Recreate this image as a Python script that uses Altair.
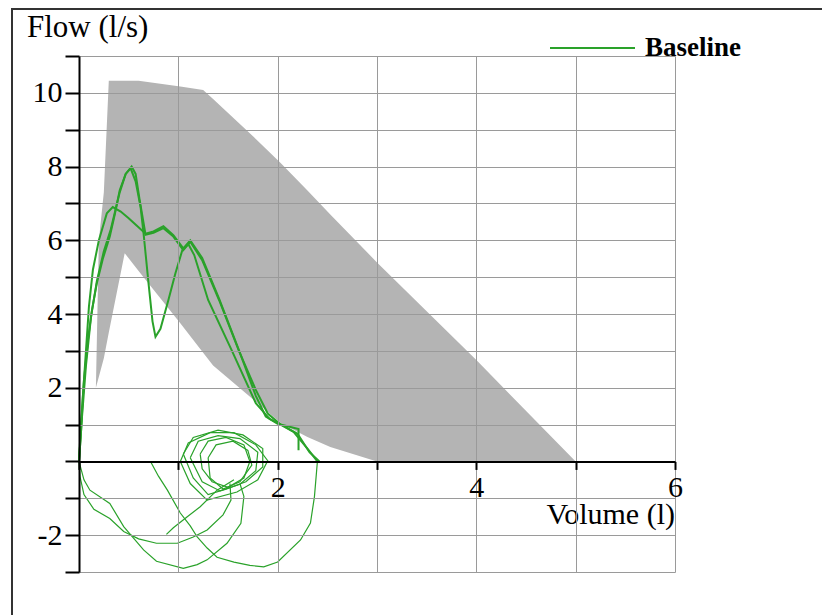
import altair as alt
import pandas as pd

# ---------------- data ----------------
# predicted normal range (grey band)
band_vol   = [0.17, 0.20, 0.25, 0.30, 0.46, 0.60, 1.02, 1.25, 1.35, 1.76, 2.03, 2.30, 2.53, 3.00, 4.00, 5.00]
band_upper = [2.00, 6.00, 7.30, 10.33, 10.33, 10.33, 10.17, 10.08, 9.83, 8.80, 8.10, 7.35, 6.70, 5.40, 2.75, 0.00]
band_lower = [2.00, 2.30, 2.80, 3.50, 5.65, 5.17, 3.75, 2.95, 2.60, 1.67, 1.04, 0.66, 0.39, 0.00, 0.00, 0.00]

# forced expiratory curves (thick)
e1_vol  = [0.00, 0.02, 0.05, 0.09, 0.13, 0.18, 0.24, 0.31, 0.36, 0.41, 0.47, 0.53, 0.57, 0.61, 0.67, 0.75, 0.85, 0.95, 1.05, 1.12, 1.24, 1.41, 1.61, 1.78, 1.90, 2.03, 2.16, 2.30, 2.40]
e1_flow = [0.00, 1.00, 2.20, 3.30, 4.10, 4.84, 5.50, 6.10, 6.70, 7.36, 7.80, 8.00, 7.80, 7.10, 6.15, 6.20, 6.33, 6.10, 5.73, 5.96, 5.46, 4.38, 3.00, 1.94, 1.30, 1.00, 0.80, 0.35, 0.00]

e2_vol  = [0.00, 0.02, 0.04, 0.07, 0.10, 0.14, 0.20, 0.28, 0.34, 0.42, 0.50, 0.58, 0.67, 0.75, 0.85, 0.95, 1.05, 1.12, 1.24, 1.41, 1.61, 1.78, 1.88, 2.00, 2.21, 2.21]
e2_flow = [0.00, 0.80, 1.80, 3.00, 4.20, 5.20, 6.00, 6.73, 6.90, 6.78, 6.60, 6.40, 6.18, 6.24, 6.38, 6.14, 5.78, 6.00, 5.52, 4.42, 3.02, 1.78, 1.22, 1.02, 0.88, 0.30]

e3_vol  = [0.00, 0.03, 0.07, 0.12, 0.18, 0.25, 0.32, 0.41, 0.47, 0.52, 0.57, 0.62, 0.65, 0.70, 0.74, 0.77, 0.82, 0.90, 0.97, 1.04, 1.10, 1.16, 1.30, 1.54, 1.78, 1.92, 2.05, 2.20, 2.32, 2.42]
e3_flow = [0.00, 1.20, 2.60, 3.90, 4.90, 5.70, 6.30, 7.30, 7.80, 7.95, 7.60, 6.90, 6.19, 4.83, 3.80, 3.38, 3.60, 4.38, 5.10, 5.73, 5.90, 5.60, 4.38, 3.00, 1.58, 1.15, 0.98, 0.75, 0.25, 0.00]

# inspiratory / tidal loops (thin)
la_vol  = [0.00, 0.01, 0.05, 0.15, 0.31, 0.45, 0.60, 0.78, 0.99, 1.15, 1.29, 1.45, 1.53, 1.52]
la_flow = [0.00, -0.41, -0.90, -1.30, -1.55, -1.90, -2.10, -2.22, -2.22, -2.05, -1.86, -1.45, -1.05, -0.60]

lb_vol  = [0.00, 0.05, 0.11, 0.31, 0.45, 0.65, 0.78, 1.05, 1.19, 1.29, 1.49, 1.63, 1.66, 1.62]
lb_flow = [0.00, -0.50, -0.78, -1.14, -1.77, -2.40, -2.71, -2.90, -2.80, -2.67, -2.22, -1.68, -0.95, -0.60]

lc_vol  = [0.72, 0.80, 0.89, 1.02, 1.12, 1.19, 1.29, 1.39, 1.56, 1.72, 1.86, 2.00, 2.23, 2.33, 2.37, 2.40]
lc_flow = [0.00, -0.40, -0.78, -1.40, -1.75, -2.05, -2.35, -2.60, -2.73, -2.82, -2.86, -2.73, -2.13, -1.67, -0.96, 0.00]

ld_vol  = [1.56, 1.39, 1.22, 1.09, 0.95, 0.88]
ld_flow = [-0.50, -0.78, -1.23, -1.50, -1.80, -1.98]

t1_vol  = [1.02, 1.10, 1.32, 1.56, 1.78, 1.90, 1.80, 1.59, 1.29, 1.12, 1.02]
t1_flow = [0.00, 0.50, 0.78, 0.78, 0.45, 0.02, -0.50, -0.83, -1.05, -0.60, 0.00]
t2_vol  = [1.12, 1.20, 1.40, 1.62, 1.80, 1.78, 1.62, 1.42, 1.24, 1.12]
t2_flow = [0.10, 0.55, 0.70, 0.62, 0.25, -0.25, -0.62, -0.80, -0.55, 0.10]
t3_vol  = [1.22, 1.30, 1.48, 1.66, 1.72, 1.66, 1.50, 1.34, 1.24, 1.22]
t3_flow = [0.20, 0.55, 0.65, 0.45, 0.00, -0.45, -0.70, -0.55, -0.20, 0.20]
t4_vol  = [1.30, 1.38, 1.55, 1.70, 1.74, 1.62, 1.45, 1.32, 1.30]
t4_flow = [0.10, 0.45, 0.55, 0.30, -0.10, -0.55, -0.75, -0.45, 0.10]
t5_vol  = [1.05, 1.15, 1.40, 1.65, 1.85, 1.85, 1.68, 1.48, 1.30, 1.15, 1.05]
t5_flow = [0.20, 0.65, 0.85, 0.72, 0.35, -0.15, -0.55, -0.75, -0.90, -0.45, 0.20]

y_ticks = list(range(-3, 12))
x_ticks = list(range(0, 7))

# ---------------- build tables ----------------
band_df = pd.DataFrame({"vol": band_vol, "flow": band_upper, "flow2": band_lower})

thick_rows, thin_rows = [], []
def add(rows, name, vols, flows):
    for i, (v, f) in enumerate(zip(vols, flows)):
        rows.append({"trace": name, "idx": i, "vol": v, "flow": f, "series": "Baseline"})

add(thick_rows, "e1", e1_vol, e1_flow)
add(thick_rows, "e2", e2_vol, e2_flow)
add(thick_rows, "e3", e3_vol, e3_flow)
for name, v, f in [("la", la_vol, la_flow), ("lb", lb_vol, lb_flow), ("lc", lc_vol, lc_flow),
                   ("ld", ld_vol, ld_flow), ("t1", t1_vol, t1_flow), ("t2", t2_vol, t2_flow),
                   ("t3", t3_vol, t3_flow), ("t4", t4_vol, t4_flow), ("t5", t5_vol, t5_flow)]:
    add(thin_rows, name, v, f)
thick_df = pd.DataFrame(thick_rows)
thin_df = pd.DataFrame(thin_rows)
one = pd.DataFrame({"a": [0]})

# ---------------- styling ----------------
FONT = "Liberation Serif"
GREEN = "#2aa22a"
W, H = 596, 516
X0_OFFSET = H * 11 / 14 - H  # puts the volume axis on flow = 0

lbl = "datum.value % 2 == 0 && datum.value != 0 ? '' + datum.value : ''"

x_enc = alt.X("vol:Q",
              scale=alt.Scale(domain=[0, 6], nice=False, zero=False),
              axis=alt.Axis(orient="bottom", offset=X0_OFFSET, values=x_ticks, labelExpr=lbl,
                            title=None, grid=True, gridColor="#9a9a9a", gridWidth=1,
                            domainColor="black", domainWidth=2, tickColor="black", tickWidth=2,
                            tickSize=8, labelFont=FONT, labelFontSize=30, labelColor="black",
                            labelPadding=3, labelFlush=False, labelOverlap=False, zindex=1))
y_enc = alt.Y("flow:Q",
              scale=alt.Scale(domain=[-3, 11], nice=False, zero=False),
              axis=alt.Axis(orient="left", values=y_ticks, labelExpr=lbl, title=None,
                            grid=True, gridColor="#9a9a9a", gridWidth=1,
                            domainColor="black", domainWidth=2, tickColor="black", tickWidth=2,
                            tickSize=14, labelFont=FONT, labelFontSize=30, labelColor="black",
                            labelPadding=3, labelFlush=False, labelOverlap=False, zindex=1))

color_enc = alt.Color("series:N",
                      scale=alt.Scale(domain=["Baseline"], range=[GREEN]),
                      legend=alt.Legend(orient="none", legendX=470, legendY=-51.5, title=None,
                                        symbolType="stroke", symbolSize=7225, symbolStrokeWidth=2,
                                        labelFont=FONT, labelFontSize=27, labelFontWeight="bold",
                                        labelColor="black", labelOffset=9, padding=0))

band = alt.Chart(band_df).mark_area(color="#b4b4b4", opacity=1).encode(
    x=x_enc, y=y_enc, y2="flow2:Q")

thick = alt.Chart(thick_df).mark_line(strokeWidth=2, interpolate="linear").encode(
    x=x_enc, y=y_enc, color=color_enc, detail="trace:N", order="idx:Q")

thin = alt.Chart(thin_df).mark_line(strokeWidth=1.2, interpolate="linear").encode(
    x=x_enc, y=y_enc, color=color_enc, detail="trace:N", order="idx:Q")

# outer frame: only its left and top edges are inside the picture
frame_left = alt.Chart(one).mark_rule(stroke="#333333", strokeWidth=2, clip=False).encode(
    x=alt.value(-67), y=alt.value(-47), y2=alt.value(700))
frame_top = alt.Chart(one).mark_rule(stroke="#333333", strokeWidth=2, clip=False).encode(
    x=alt.value(-68), x2=alt.value(900), y=alt.value(-47))

flow_title = alt.Chart(one).mark_text(text="Flow (l/s)", font=FONT, fontSize=31, align="left",
                                      baseline="alphabetic", color="black").encode(
    x=alt.value(-52), y=alt.value(-19))
vol_title = alt.Chart(one).mark_text(text="Volume (l)", font=FONT, fontSize=30, align="right",
                                     baseline="alphabetic", color="black").encode(
    x=alt.value(W), y=alt.value(468))

chart = alt.layer(band, thick, thin, frame_left, frame_top, flow_title, vol_title).properties(
    width=W, height=H,
    autosize=alt.AutoSizeParams(type="none"),
    padding={"left": 71, "top": 48, "right": 147, "bottom": 56},
    background="white",
).configure_view(strokeWidth=0)

chart.save("out.html", embed_options={"renderer": "svg", "actions": False})
